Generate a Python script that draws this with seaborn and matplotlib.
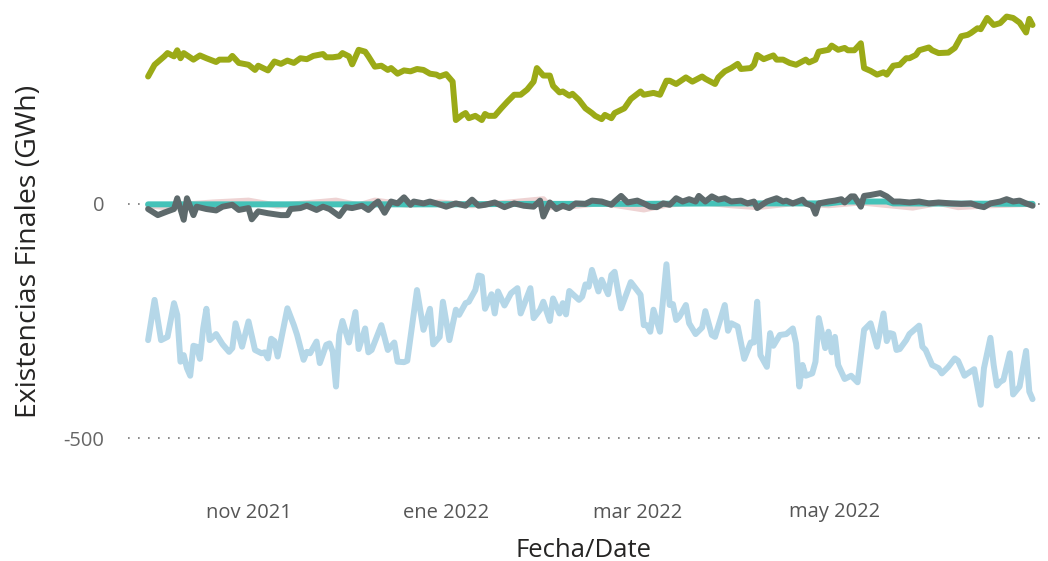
import numpy as np
import pandas as pd
import matplotlib
matplotlib.use("Agg")
import matplotlib.pyplot as plt
import seaborn as sns

START = "2021-10-01"

# Series 1 (olive green)
green_days = [0, 2, 5, 6, 8, 9, 10, 11, 14, 16, 18, 21, 22, 25, 26, 28, 31, 33, 34, 37, 39, 41, 43, 45, 47, 49,
              51, 54, 55, 57, 59, 60, 62, 63, 65, 67, 68, 70, 72, 74, 75, 77, 79, 81, 83, 85, 87, 89, 90, 92,
              94, 95, 97, 98, 99, 101, 103, 104, 105, 107, 109, 111, 113, 115, 117, 119, 120, 122, 124, 125,
              127, 128, 130, 131, 133, 135, 137, 138, 140, 141, 143, 144, 147, 149, 152, 153, 156, 158, 160,
              161, 163, 166, 168, 171, 172, 175, 176, 178, 180, 182, 183, 186, 187, 188, 190, 193, 194, 196,
              198, 200, 203, 204, 206, 207, 210, 211, 213, 215, 216, 218, 220, 221, 223, 225, 227, 228, 230,
              232, 234, 235, 237, 238, 241, 242, 244, 247, 249, 251, 253, 254, 256, 257, 259, 261, 263, 265,
              267, 269, 271, 272, 273]
green_vals = [272, 297, 315, 322, 315, 328, 311, 322, 308, 317, 311, 303, 308, 308, 316, 301, 297, 286, 295, 285,
              304, 299, 306, 301, 311, 309, 316, 320, 313, 313, 315, 322, 315, 298, 329, 325, 315, 293, 295, 286,
              290, 278, 285, 283, 288, 286, 278, 276, 272, 277, 261, 179, 190, 194, 183, 188, 179, 192, 188, 188,
              204, 219, 233, 233, 244, 261, 290, 274, 274, 252, 238, 240, 231, 235, 222, 204, 194, 188, 181, 190,
              183, 194, 204, 224, 240, 233, 237, 233, 263, 263, 256, 270, 261, 272, 267, 256, 270, 283, 290, 299,
              288, 290, 297, 318, 309, 317, 308, 308, 301, 297, 308, 302, 308, 325, 329, 338, 329, 333, 328, 328,
              343, 290, 284, 276, 281, 276, 295, 297, 311, 311, 318, 328, 334, 328, 322, 323, 333, 358, 361, 365,
              375, 373, 397, 382, 386, 400, 397, 387, 366, 395, 382]

# Series 2 (light blue)
blue_days = [0, 2, 4, 6, 8, 9, 10, 11, 12, 13, 14, 15, 16, 17, 18, 19, 21, 23, 25, 26, 27, 29, 31, 33, 35, 36,
             37, 38, 39, 40, 43, 45, 46, 48, 49, 50, 52, 53, 55, 56, 57, 58, 59, 60, 62, 64, 65, 67, 68, 69, 72,
             74, 76, 77, 79, 80, 83, 85, 87, 88, 90, 91, 93, 95, 96, 98, 99, 101, 102, 103, 104, 106, 107, 108,
             110, 112, 114, 115, 118, 119, 121, 122, 124, 125, 127, 128, 129, 130, 133, 134, 135, 136, 137, 139,
             140, 142, 143, 144, 146, 149, 152, 153, 154, 155, 156, 158, 160, 161, 162, 163, 164, 166, 167, 169,
             171, 172, 174, 175, 178, 179, 180, 182, 184, 186, 187, 188, 189, 191, 192, 193, 195, 197, 199, 200,
             201, 202, 203, 205, 206, 207, 209, 210, 211, 212, 213, 215, 217, 219, 221, 223, 225, 227, 228, 229,
             230, 231, 232, 234, 235, 238, 239, 240, 242, 244, 245, 247, 249, 250, 252, 253, 255, 257, 258, 260,
             261, 262, 263, 264, 266, 267, 269, 271, 272, 273]
blue_vals = [-291, -205, -291, -284, -212, -237, -337, -323, -351, -367, -303, -305, -331, -266, -224, -291, -278,
             -300, -316, -308, -255, -305, -251, -312, -319, -317, -330, -288, -293, -326, -223, -259, -280, -333,
             -316, -319, -294, -340, -301, -298, -316, -390, -280, -250, -296, -231, -310, -266, -317, -312, -259,
             -312, -296, -337, -338, -335, -184, -269, -224, -300, -284, -209, -291, -226, -237, -212, -209, -184,
             -153, -155, -224, -193, -234, -187, -217, -191, -180, -234, -180, -244, -226, -209, -250, -202, -234,
             -212, -236, -186, -205, -198, -172, -177, -141, -187, -162, -193, -152, -145, -223, -167, -194, -259,
             -259, -273, -226, -273, -129, -216, -214, -248, -241, -216, -255, -278, -264, -229, -280, -284, -216,
             -271, -255, -262, -331, -296, -296, -209, -323, -348, -276, -303, -280, -278, -266, -298, -390, -344,
             -367, -362, -337, -244, -308, -273, -317, -284, -344, -374, -367, -381, -269, -255, -305, -234, -293,
             -276, -278, -312, -310, -291, -278, -260, -305, -312, -344, -351, -362, -348, -330, -335, -367, -362,
             -353, -429, -351, -286, -344, -388, -380, -376, -319, -407, -390, -314, -401, -417]

# Series 3 (dark grey)
grey_days = [0, 3, 6, 8, 9, 11, 12, 14, 15, 18, 21, 23, 26, 28, 31, 32, 34, 37, 41, 43, 44, 47, 49, 52, 54, 56,
             59, 61, 63, 66, 68, 70, 71, 73, 75, 77, 79, 81, 82, 85, 87, 89, 92, 95, 98, 100, 102, 104, 107, 110,
             113, 116, 119, 121, 122, 124, 126, 128, 130, 132, 135, 137, 140, 143, 144, 146, 148, 151, 153, 155,
             157, 159, 161, 163, 165, 167, 169, 170, 172, 174, 176, 178, 180, 183, 185, 187, 188, 191, 194, 196,
             197, 199, 202, 203, 205, 206, 207, 210, 212, 214, 215, 217, 218, 220, 221, 223, 226, 228, 230, 232,
             235, 238, 241, 244, 248, 251, 254, 256, 258, 260, 263, 265, 267, 269, 271, 273]
grey_vals = [-11, -24, -16, -11, 12, -34, 12, -24, -6, -11, -14, -6, -2, -13, -9, -33, -16, -20, -24, -24, -11,
             -9, -4, -13, -6, -11, -26, -7, -9, -4, -13, 0, 5, -19, 5, 1, 14, -2, 5, 1, 5, 1, -6, 1, -4, 9, -4,
             -2, 3, -7, 1, -4, -6, 7, -27, 3, -11, -4, -9, 1, 0, 7, 5, -2, 5, 17, 3, 7, 1, -6, -7, 1, -2, 12, 5,
             10, 5, 17, 5, 16, 9, 12, 5, 7, 1, 5, -9, 5, 12, 5, 7, 1, 9, 1, -4, -21, 1, 5, 7, 10, 3, 16, 16, -6,
             17, 19, 23, 16, 5, 5, 3, 5, 1, 3, 1, 0, 1, -4, -7, 1, 5, 10, 5, 7, 1, -4]

# Series 4 (light pink)
pink_days = [0, 5, 10, 20, 31, 40, 50, 58, 65, 70, 80, 90, 100, 110, 122, 124, 131, 140, 153, 160, 170, 180, 188,
             200, 210, 220, 236, 244, 250, 260, 273]
pink_vals = [-3, -7, -2, 3, 7, -4, 2, 7, -3, 7, -2, 3, -3, 2, 10, -7, -5, 2, -12, -2, 4, -3, -7, 2, -3, 3, -8, 2,
             -7, -3, 0]

# Series 5 (teal)
teal_days = [0, 30, 60, 90, 120, 150, 180, 210, 215, 228, 230, 273]
teal_vals = [-1, -1, -1, -1, 0, 0, 1, 1, 5, 5, 1, 0]

x_ticks = ["2021-11-01", "2022-01-01", "2022-03-01", "2022-05-01"]
x_ticklabels = ["nov 2021", "ene 2022", "mar 2022", "may 2022"]
y_ticks = [-500, 0]
y_ticklabels = ["-500", "0"]


def frame(days, vals):
    return pd.DataFrame({"date": pd.Timestamp(START) + pd.to_timedelta(days, unit="D"), "value": vals})


sns.set_theme(style="white")
plt.rcParams["font.family"] = ["Open Sans", "DejaVu Sans"]

fig = plt.figure(figsize=(10.48, 5.61), dpi=100)
ax = fig.add_axes([128 / 1048, 1 - 490 / 561, (1040 - 128) / 1048, (490 - 10) / 561])

lw = 4.3
sns.lineplot(data=frame(pink_days, pink_vals), x="date", y="value", ax=ax, color="#EED3D3",
             lw=lw, estimator=None, sort=False, zorder=2)
sns.lineplot(data=frame(teal_days, teal_vals), x="date", y="value", ax=ax, color="#45C2B8",
             lw=lw, estimator=None, sort=False, zorder=3)
sns.lineplot(data=frame(grey_days, grey_vals), x="date", y="value", ax=ax, color="#5E6A6C",
             lw=lw, estimator=None, sort=False, zorder=4)
sns.lineplot(data=frame(green_days, green_vals), x="date", y="value", ax=ax, color="#9BAA17",
             lw=lw, estimator=None, sort=False, zorder=4)
sns.lineplot(data=frame(blue_days, blue_vals), x="date", y="value", ax=ax, color="#B5D7E8",
             lw=lw, estimator=None, sort=False, zorder=4)

start = pd.Timestamp(START)
ax.set_xlim(start - pd.Timedelta(days=6.2), start + pd.Timedelta(days=275.3))
ax.set_ylim(-611, 414)

ax.set_xticks(pd.to_datetime(x_ticks))
ax.set_xticklabels(x_ticklabels)
ax.set_yticks(y_ticks)
ax.set_yticklabels(y_ticklabels)

for s in ax.spines.values():
    s.set_visible(False)
ax.grid(False)
for yv in y_ticks:
    ax.axhline(yv, color="#777777", lw=1.2, ls=(0, (1, 5)), zorder=1)

ax.tick_params(axis="x", length=0, pad=9, labelsize=14.5, labelcolor="#555555")
ax.tick_params(axis="y", length=0, pad=17, labelsize=14.5, labelcolor="#666666")

ax.set_xlabel("Fecha/Date", fontsize=18.5, color="#252423", labelpad=11)
ax.set_ylabel("Existencias Finales (GWh)", fontsize=20.5, color="#252423")
ax.yaxis.set_label_coords(-0.093, 0.497)

fig.savefig("out.png", dpi=100)
